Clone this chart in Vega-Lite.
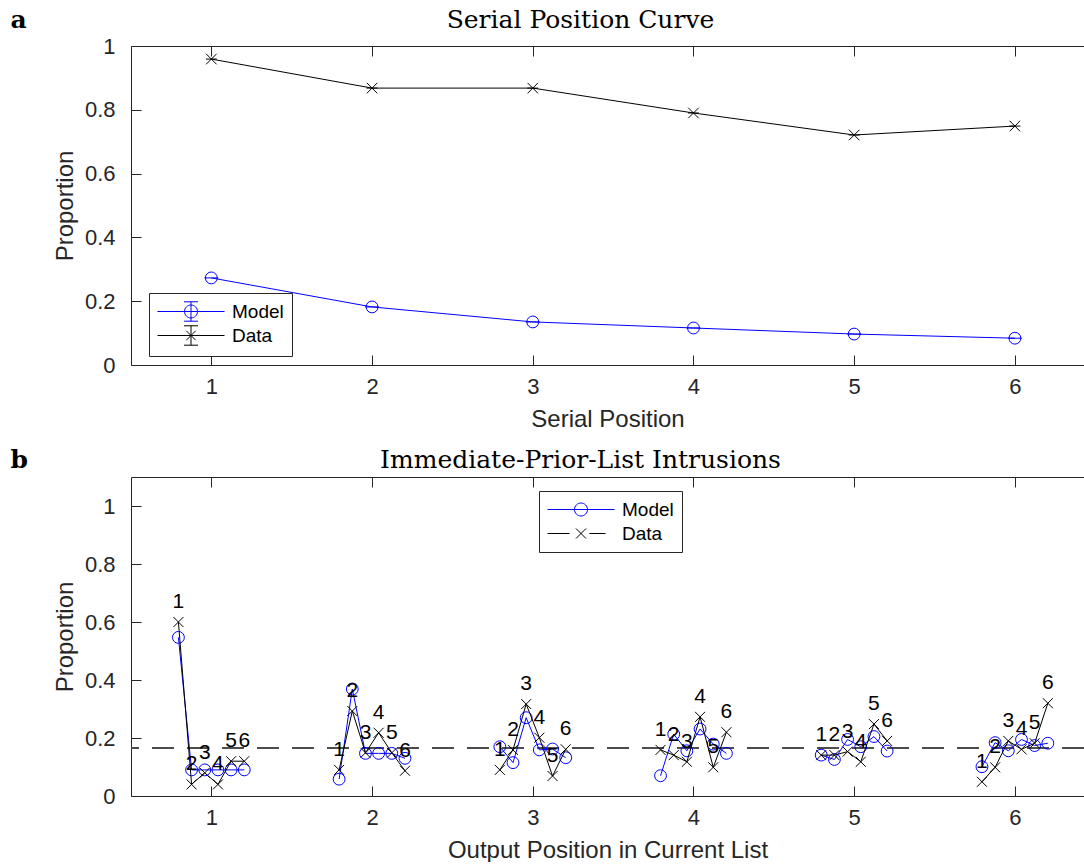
{
  "$schema": "https://vega.github.io/schema/vega-lite/v6.json",
  "autosize": {"type": "pad"},
  "padding": {"left": 10, "top": 7, "right": 0, "bottom": 0},
  "background": "white",
  "spacing": 112,
  "bounds": "flush",
  "resolve": {"scale": {"color": "independent", "shape": "independent"}, "legend": {"color": "independent", "shape": "independent"}},
  "vconcat": [
    {
      "width": 953,
      "height": 319,
      "data": {"values": [
        {"sp": 1, "model": 0.273, "data": 0.959},
        {"sp": 2, "model": 0.182, "data": 0.868},
        {"sp": 3, "model": 0.135, "data": 0.868},
        {"sp": 4, "model": 0.116, "data": 0.790},
        {"sp": 5, "model": 0.097, "data": 0.721},
        {"sp": 6, "model": 0.084, "data": 0.749}
      ]},
      "resolve": {"axis": {"x": "independent"}},
      "layer": [
        {
          "mark": {"type": "line", "color": "#0000ff", "strokeWidth": 1},
          "encoding": {
            "x": {"field": "sp", "type": "quantitative", "scale": {"domain": [0.5, 6.43], "nice": false, "zero": false},
                  "axis": {"orient": "bottom", "values": [1, 2, 3, 4, 5, 6], "format": "d", "labelPadding": 21, "title": "Serial Position", "titlePadding": 10}},
            "y": {"field": "model", "type": "quantitative", "title": "Proportion", "scale": {"domain": [0, 1], "nice": false},
                  "axis": {"values": [0, 0.2, 0.4, 0.6, 0.8, 1], "format": "~g", "labelPadding": 26, "titlePadding": 7}}
          }
        },
        {
          "mark": {"type": "line", "color": "#000000", "strokeWidth": 1},
          "encoding": {
            "x": {"field": "sp", "type": "quantitative",
                  "axis": {"orient": "top", "values": [1, 2, 3, 4, 5, 6], "labels": false, "title": "Serial Position Curve", "titleX": 449, "titleY": -19, "titleAlign": "center", "titleBaseline": "alphabetic", "titleAngle": 0, "titleFont": "DejaVu Serif", "titleFontWeight": "normal", "titleFontSize": 25, "titleColor": "#000000"}},
            "y": {"field": "data", "type": "quantitative", "title": "Proportion"}
          }
        },
        {
          "mark": {"type": "point", "shape": "circle", "filled": false, "color": "#0000ff", "size": 140, "strokeWidth": 1, "opacity": 1},
          "encoding": {
            "x": {"field": "sp", "type": "quantitative",
                  "axis": {"orient": "top", "labels": false, "ticks": false, "domain": false, "title": "a", "titleX": -121, "titleY": -19, "titleAlign": "left", "titleBaseline": "alphabetic", "titleAngle": 0, "titleFont": "DejaVu Serif", "titleFontWeight": "bold", "titleFontSize": 25, "titleColor": "#000000"}},
            "y": {"field": "model", "type": "quantitative", "title": "Proportion"}
          }
        },
        {
          "mark": {"type": "point", "shape": "M-1,0L1,0", "filled": false, "color": "#0000ff", "size": 196, "strokeWidth": 1, "opacity": 1},
          "encoding": {
            "x": {"field": "sp", "type": "quantitative", "axis": null},
            "y": {"field": "model", "type": "quantitative", "title": "Proportion"}
          }
        },
        {
          "mark": {"type": "point", "shape": "M-1,-1L1,1M-1,1L1,-1", "filled": false, "color": "#000000", "size": 110, "strokeWidth": 1, "opacity": 1},
          "encoding": {
            "x": {"field": "sp", "type": "quantitative", "axis": null},
            "y": {"field": "data", "type": "quantitative", "title": "Proportion"}
          }
        },
        {
          "mark": {"type": "point", "shape": "M-1,0L1,0", "filled": false, "color": "#000000", "size": 121, "strokeWidth": 1, "opacity": 1},
          "encoding": {
            "x": {"field": "sp", "type": "quantitative", "axis": null},
            "y": {"field": "data", "type": "quantitative", "title": "Proportion"}
          }
        },
        {
          "transform": [{"filter": "false"}],
          "mark": {"type": "point", "filled": false, "strokeWidth": 1, "opacity": 1},
          "encoding": {
            "shape": {"field": "srcA", "type": "nominal",
              "scale": {"domain": ["Model", "Data"], "range": [
                "M-3.35,0L3.35,0M-0.65,0A0.65,0.65 0 1,0 0.65,0A0.65,0.65 0 1,0 -0.65,0M0,-0.97L0,0.97M-0.7,-0.97L0.7,-0.97M-0.7,0.97L0.7,0.97",
                "M-3.35,0L3.35,0M-0.47,-0.47L0.47,0.47M-0.47,0.47L0.47,-0.47M0,-0.97L0,0.97M-0.7,-0.97L0.7,-0.97M-0.7,0.97L0.7,0.97"
              ]},
              "legend": {"orient": "none", "legendX": 18, "legendY": 247, "title": null, "symbolSize": 400, "symbolOffset": 23.5, "symbolStrokeWidth": 1, "symbolOpacity": 1, "labelFont": "Liberation Sans", "labelFontSize": 19, "labelColor": "#000000", "labelOffset": 30.5, "strokeColor": "#262626", "fillColor": "#ffffff", "padding": 8, "rowPadding": -1}},
            "color": {"field": "srcA", "type": "nominal",
              "scale": {"domain": ["Model", "Data"], "range": ["#0000ff", "#000000"]},
              "legend": {"orient": "none", "legendX": 18, "legendY": 247, "title": null, "symbolSize": 400, "symbolOffset": 23.5, "symbolStrokeWidth": 1, "symbolOpacity": 1, "labelFont": "Liberation Sans", "labelFontSize": 19, "labelColor": "#000000", "labelOffset": 30.5, "strokeColor": "#262626", "fillColor": "#ffffff", "padding": 8, "rowPadding": -1}}
          }
        }
      ]
    },
    {
      "width": 953,
      "height": 319,
      "data": {"values": [
        {"op": 1, "sp": 1, "x": 0.795, "model": 0.547, "data": 0.600},
        {"op": 1, "sp": 2, "x": 0.877, "model": 0.090, "data": 0.040},
        {"op": 1, "sp": 3, "x": 0.959, "model": 0.090, "data": 0.080},
        {"op": 1, "sp": 4, "x": 1.041, "model": 0.090, "data": 0.040},
        {"op": 1, "sp": 5, "x": 1.123, "model": 0.090, "data": 0.120},
        {"op": 1, "sp": 6, "x": 1.205, "model": 0.090, "data": 0.120},
        {"op": 2, "sp": 1, "x": 1.795, "model": 0.058, "data": 0.090},
        {"op": 2, "sp": 2, "x": 1.877, "model": 0.369, "data": 0.293},
        {"op": 2, "sp": 3, "x": 1.959, "model": 0.147, "data": 0.149},
        {"op": 2, "sp": 4, "x": 2.041, "model": 0.147, "data": 0.218},
        {"op": 2, "sp": 5, "x": 2.123, "model": 0.147, "data": 0.149},
        {"op": 2, "sp": 6, "x": 2.205, "model": 0.130, "data": 0.087},
        {"op": 3, "sp": 1, "x": 2.795, "model": 0.170, "data": 0.090},
        {"op": 3, "sp": 2, "x": 2.877, "model": 0.115, "data": 0.159},
        {"op": 3, "sp": 3, "x": 2.959, "model": 0.270, "data": 0.317},
        {"op": 3, "sp": 4, "x": 3.041, "model": 0.159, "data": 0.201},
        {"op": 3, "sp": 5, "x": 3.123, "model": 0.162, "data": 0.069},
        {"op": 3, "sp": 6, "x": 3.205, "model": 0.132, "data": 0.161},
        {"op": 4, "sp": 1, "x": 3.795, "model": 0.070, "data": 0.159},
        {"op": 4, "sp": 2, "x": 3.877, "model": 0.213, "data": 0.141},
        {"op": 4, "sp": 3, "x": 3.959, "model": 0.156, "data": 0.118},
        {"op": 4, "sp": 4, "x": 4.041, "model": 0.231, "data": 0.273},
        {"op": 4, "sp": 5, "x": 4.123, "model": 0.179, "data": 0.099},
        {"op": 4, "sp": 6, "x": 4.205, "model": 0.147, "data": 0.220},
        {"op": 5, "sp": 1, "x": 4.795, "model": 0.141, "data": 0.141},
        {"op": 5, "sp": 2, "x": 4.877, "model": 0.126, "data": 0.141},
        {"op": 5, "sp": 3, "x": 4.959, "model": 0.195, "data": 0.153},
        {"op": 5, "sp": 4, "x": 5.041, "model": 0.170, "data": 0.118},
        {"op": 5, "sp": 5, "x": 5.123, "model": 0.205, "data": 0.248},
        {"op": 5, "sp": 6, "x": 5.205, "model": 0.155, "data": 0.190},
        {"op": 6, "sp": 1, "x": 5.795, "model": 0.101, "data": 0.049},
        {"op": 6, "sp": 2, "x": 5.877, "model": 0.184, "data": 0.099},
        {"op": 6, "sp": 3, "x": 5.959, "model": 0.156, "data": 0.190},
        {"op": 6, "sp": 4, "x": 6.041, "model": 0.195, "data": 0.161},
        {"op": 6, "sp": 5, "x": 6.123, "model": 0.174, "data": 0.182},
        {"op": 6, "sp": 6, "x": 6.205, "model": 0.182, "data": 0.320}
      ]},
      "resolve": {"axis": {"x": "independent"}},
      "layer": [
        {
          "mark": {"type": "rule", "color": "#4d4d4d", "strokeDash": [22, 13], "strokeWidth": 1.5},
          "encoding": {"y": {"datum": 0.1667, "type": "quantitative", "title": "Proportion"}}
        },
        {
          "mark": {"type": "line", "color": "#0000ff", "strokeWidth": 1},
          "encoding": {
            "x": {"field": "x", "type": "quantitative", "scale": {"domain": [0.5, 6.43], "nice": false, "zero": false},
                  "axis": {"orient": "bottom", "values": [1, 2, 3, 4, 5, 6], "format": "d", "labelPadding": 21, "title": "Output Position in Current List", "titlePadding": 10}},
            "y": {"field": "model", "type": "quantitative", "title": "Proportion", "scale": {"domain": [0, 1.1], "nice": false},
                  "axis": {"values": [0, 0.2, 0.4, 0.6, 0.8, 1], "format": "~g", "labelPadding": 26, "titlePadding": 7}},
            "detail": {"field": "op", "type": "nominal"},
            "order": {"field": "sp", "type": "quantitative"}
          }
        },
        {
          "mark": {"type": "point", "shape": "circle", "filled": false, "color": "#0000ff", "size": 140, "strokeWidth": 1, "opacity": 1},
          "encoding": {
            "x": {"field": "x", "type": "quantitative",
                  "axis": {"orient": "top", "labels": false, "ticks": false, "domain": false, "title": "b", "titleX": -121, "titleY": -10, "titleAlign": "left", "titleBaseline": "alphabetic", "titleAngle": 0, "titleFont": "DejaVu Serif", "titleFontWeight": "bold", "titleFontSize": 25, "titleColor": "#000000"}},
            "y": {"field": "model", "type": "quantitative", "title": "Proportion"}
          }
        },
        {
          "mark": {"type": "line", "color": "#000000", "strokeWidth": 1},
          "encoding": {
            "x": {"field": "x", "type": "quantitative",
                  "axis": {"orient": "top", "values": [1, 2, 3, 4, 5, 6], "labels": false, "title": "Immediate-Prior-List Intrusions", "titleX": 449, "titleY": -10, "titleAlign": "center", "titleBaseline": "alphabetic", "titleAngle": 0, "titleFont": "DejaVu Serif", "titleFontWeight": "normal", "titleFontSize": 25, "titleColor": "#000000"}},
            "y": {"field": "data", "type": "quantitative", "title": "Proportion"},
            "detail": {"field": "op", "type": "nominal"},
            "order": {"field": "sp", "type": "quantitative"}
          }
        },
        {
          "mark": {"type": "point", "shape": "M-1,-1L1,1M-1,1L1,-1", "filled": false, "color": "#000000", "size": 100, "strokeWidth": 1, "opacity": 1},
          "encoding": {
            "x": {"field": "x", "type": "quantitative", "axis": null},
            "y": {"field": "data", "type": "quantitative", "title": "Proportion"}
          }
        },
        {
          "mark": {"type": "text", "font": "Liberation Sans", "fontSize": 21, "color": "#000000", "baseline": "middle", "dy": -20},
          "encoding": {
            "x": {"field": "x", "type": "quantitative", "axis": null},
            "y": {"field": "data", "type": "quantitative", "title": "Proportion"},
            "text": {"field": "sp", "type": "nominal"}
          }
        },
        {
          "transform": [{"filter": "false"}],
          "mark": {"type": "point", "filled": false, "strokeWidth": 1, "opacity": 1},
          "encoding": {
            "shape": {"field": "srcB", "type": "nominal",
              "scale": {"domain": ["Model", "Data"], "range": [
                "M-3.35,0L3.35,0M-0.65,0A0.65,0.65 0 1,0 0.65,0A0.65,0.65 0 1,0 -0.65,0",
                "M-3.35,0L-1.15,0M0.84,0L2.45,0M-0.5,-0.5L0.5,0.5M-0.5,0.5L0.5,-0.5"
              ]},
              "legend": {"orient": "none", "legendX": 408, "legendY": 14, "title": null, "symbolSize": 400, "symbolOffset": 23.5, "symbolStrokeWidth": 1, "symbolOpacity": 1, "labelFont": "Liberation Sans", "labelFontSize": 19, "labelColor": "#000000", "labelOffset": 30.5, "strokeColor": "#262626", "fillColor": "#ffffff", "padding": 8, "rowPadding": 3}},
            "color": {"field": "srcB", "type": "nominal",
              "scale": {"domain": ["Model", "Data"], "range": ["#0000ff", "#000000"]},
              "legend": {"orient": "none", "legendX": 408, "legendY": 14, "title": null, "symbolSize": 400, "symbolOffset": 23.5, "symbolStrokeWidth": 1, "symbolOpacity": 1, "labelFont": "Liberation Sans", "labelFontSize": 19, "labelColor": "#000000", "labelOffset": 30.5, "strokeColor": "#262626", "fillColor": "#ffffff", "padding": 8, "rowPadding": 3}}
          }
        }
      ]
    }
  ],
  "config": {
    "view": {"stroke": null},
    "axis": {
      "grid": false,
      "domainColor": "#262626",
      "tickColor": "#262626",
      "labelColor": "#262626",
      "titleColor": "#262626",
      "labelFont": "Liberation Sans",
      "titleFont": "Liberation Sans",
      "labelFontSize": 22,
      "titleFontSize": 24,
      "titleFontWeight": "normal",
      "tickSize": -10,
      "domainWidth": 1,
      "tickWidth": 1
    }
  }
}
